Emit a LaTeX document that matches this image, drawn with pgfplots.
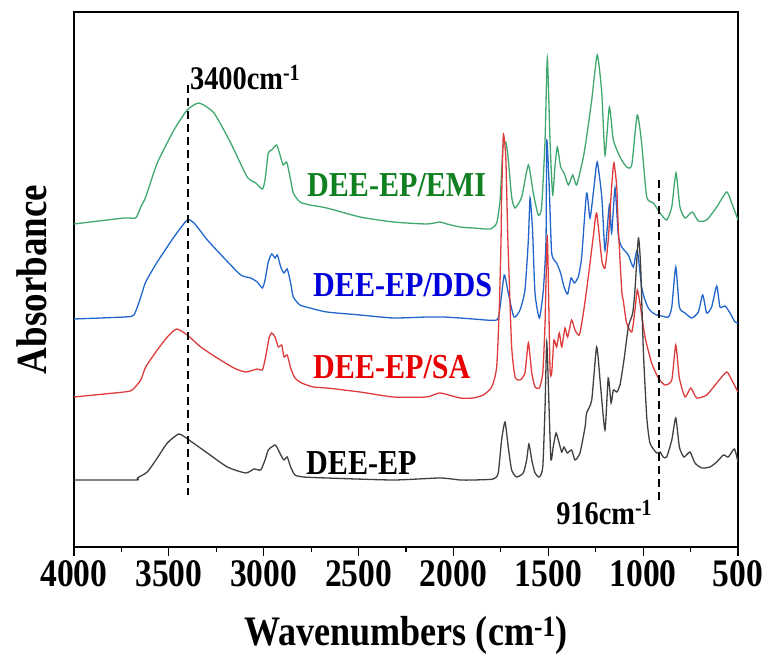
\documentclass[border=0pt]{standalone}
\usepackage{pgfplots}
\pgfplotsset{compat=1.18}
\usepackage{fontspec}
\setmainfont{Liberation Serif}
\newfontfamily\tallserif[FakeStretch=0.86]{Liberation Serif}

\definecolor{cEMI}{RGB}{64,168,110}
\definecolor{cDDS}{RGB}{34,102,204}
\definecolor{cSA}{RGB}{222,60,60}
\definecolor{cEP}{RGB}{64,64,64}
\definecolor{tEMI}{RGB}{16,128,32}
\definecolor{tDDS}{RGB}{0,0,220}
\definecolor{tSA}{RGB}{232,0,0}

\pgfplotsset{spec/.style={line width=1.3pt, smooth, tension=0.35}}

\begin{document}
\begin{tikzpicture}
\begin{axis}[
  scale only axis,
  width=664pt, height=535pt,
  x dir=reverse,
  xmin=500, xmax=4000, ymin=0, ymax=5.35,
  xtick={500,1000,...,4000},
  minor x tick num=1,
  ytick=\empty,
  xtick pos=bottom,
  tick align=outside,
  major tick length=9pt,
  minor tick length=5pt,
  every tick/.style={black, line width=1.2pt},
  axis line style={line width=1.2pt},
  /pgf/number format/assume math mode=true,
  /pgf/number format/1000 sep={},
  xticklabel style={font=\tallserif\fontsize{39}{39}\selectfont\bfseries, yshift=-1pt},
  xlabel={Wavenumbers (cm\textsuperscript{-1})},
  xlabel style={font=\tallserif\fontsize{42}{42}\selectfont\bfseries, at={(axis description cs:0.5,-0.165)}, anchor=center},
  ylabel={Absorbance},
  ylabel style={font=\tallserif\fontsize{43}{43}\selectfont\bfseries, at={(axis description cs:-0.063,0.5)}, anchor=center},
  clip=true,
]
\coordinate (sw) at (rel axis cs:0,0);
\coordinate (ne) at (rel axis cs:1,1);

% DEE-EP/EMI
\addplot[cEMI, spec] coordinates {
(4000,3.23) (3736,3.29) (3675,3.29) (3648,3.40) (3622,3.50) (3561,3.84)
(3473,4.17) (3403,4.37) (3341,4.44) (3262,4.34) (3174,4.04) (3087,3.70)
(3042,3.64) (3007,3.58) (2993,3.67) (2976,3.94) (2958,3.97) (2932,4.02)
(2914,3.92) (2897,3.82) (2879,3.85) (2861,3.70) (2844,3.54) (2809,3.45)
(2756,3.42) (2668,3.39) (2492,3.30) (2317,3.25) (2141,3.23) (2071,3.25)
(2035,3.23) (1965,3.20) (1897,3.19) (1807,3.18) (1772,3.24) (1754,3.47)
(1739,4.00) (1724,4.05) (1712,3.90) (1693,3.50) (1675,3.39) (1640,3.50)
(1605,3.82) (1579,3.54) (1553,3.32) (1535,3.40) (1517,4.07) (1505,4.89)
(1491,4.07) (1477,3.52) (1465,3.80) (1452,4.00) (1435,3.80) (1417,3.74)
(1394,3.62) (1371,3.72) (1350,3.62) (1315,3.90) (1298,4.10) (1271,4.47)
(1242,4.92) (1218,4.54) (1201,3.92) (1178,4.40) (1157,4.07) (1122,3.90)
(1087,3.80) (1060,3.82) (1031,4.32) (1008,4.04) (981,3.50) (946,3.44)
(911,3.34) (876,3.27) (849,3.40) (827,3.74) (806,3.40) (779,3.29)
(741,3.35) (709,3.26) (665,3.27) (612,3.40) (560,3.55) (533,3.44) (500,3.27)
};

% DEE-EP/DDS
\addplot[cDDS, spec] coordinates {
(4000,2.28) (3736,2.30) (3684,2.32) (3648,2.50) (3622,2.65) (3561,2.85)
(3473,3.10) (3403,3.27) (3367,3.24) (3297,3.07) (3209,2.89) (3121,2.72)
(3069,2.69) (3034,2.65) (3007,2.59) (2993,2.67) (2976,2.85) (2958,2.93)
(2940,2.89) (2928,2.92) (2910,2.80) (2893,2.74) (2876,2.78) (2858,2.64)
(2844,2.50) (2809,2.42) (2756,2.39) (2668,2.35) (2492,2.32) (2317,2.29)
(2141,2.30) (2053,2.30) (1965,2.29) (1895,2.28) (1772,2.27) (1754,2.40)
(1732,2.72) (1711,2.54) (1681,2.30) (1649,2.37) (1623,2.57) (1605,3.07)
(1596,3.49) (1583,3.17) (1570,2.54) (1547,2.29) (1526,2.57) (1512,3.07)
(1508,4.07) (1495,3.60) (1482,2.94) (1456,2.84) (1435,2.74) (1417,2.60)
(1398,2.53) (1380,2.69) (1363,2.64) (1342,2.70) (1324,2.90) (1298,3.54)
(1280,3.29) (1259,3.60) (1242,3.85) (1218,3.50) (1201,2.97) (1178,3.42)
(1166,3.14) (1148,3.59) (1131,3.12) (1113,3.00) (1078,2.92) (1052,2.80)
(1031,2.97) (1008,2.60) (990,2.47) (973,2.39) (955,2.35) (929,2.32)
(902,2.31) (867,2.30) (849,2.40) (828,2.80) (809,2.40) (779,2.34)
(744,2.29) (709,2.35) (686,2.52) (665,2.34) (639,2.40) (612,2.61)
(595,2.40) (568,2.41) (542,2.34) (516,2.25) (500,2.24)
};

% DEE-EP/SA
\addplot[cSA, spec] coordinates {
(4000,1.50) (3736,1.55) (3693,1.57) (3648,1.67) (3622,1.80) (3561,1.97)
(3508,2.10) (3459,2.18) (3403,2.12) (3332,2.00) (3245,1.89) (3157,1.79)
(3095,1.75) (3034,1.78) (3007,1.77) (2990,1.90) (2972,2.09) (2958,2.14)
(2940,2.10) (2923,2.00) (2905,2.02) (2893,1.90) (2876,1.92) (2858,1.79)
(2835,1.69) (2800,1.64) (2739,1.60) (2668,1.59) (2492,1.55) (2317,1.50)
(2141,1.50) (2071,1.54) (1965,1.49) (1897,1.49) (1843,1.52) (1798,1.60)
(1772,1.80) (1758,2.40) (1749,3.07) (1746,3.47) (1737,4.12) (1724,3.90)
(1714,3.14) (1707,2.74) (1693,2.00) (1675,1.70) (1649,1.67) (1623,1.74)
(1605,2.04) (1587,1.74) (1570,1.60) (1547,1.59) (1529,1.74) (1517,2.24)
(1505,3.11) (1491,1.80) (1482,1.74) (1470,2.07) (1456,2.00) (1442,2.14)
(1429,2.00) (1412,2.19) (1398,2.10) (1377,2.27) (1359,2.17) (1336,2.12)
(1315,2.34) (1289,2.70) (1263,3.10) (1245,3.34) (1218,2.87) (1201,2.79)
(1184,3.07) (1166,3.60) (1154,3.84) (1139,3.60) (1131,3.20) (1113,2.57)
(1105,2.47) (1087,2.24) (1060,2.15) (1043,2.37) (1031,2.57) (1017,2.44)
(990,2.10) (955,1.84) (920,1.69) (885,1.62) (849,1.67) (828,2.02)
(809,1.69) (779,1.50) (749,1.59) (718,1.49) (665,1.52) (612,1.64)
(560,1.75) (533,1.67) (500,1.55)
};

% DEE-EP
\addplot[cEP, spec] coordinates {
(4000,0.67) (3675,0.67) (3666,0.69) (3614,0.75) (3561,0.89) (3508,1.04)
(3447,1.13) (3394,1.07) (3297,0.94) (3192,0.80) (3095,0.74) (3051,0.78)
(3016,0.77) (2993,0.87) (2976,0.97) (2958,1.00) (2940,1.02) (2928,0.99)
(2910,0.92) (2893,0.87) (2876,0.90) (2858,0.80) (2835,0.72) (2791,0.70)
(2668,0.69) (2317,0.67) (2071,0.69) (1965,0.67) (1895,0.67) (1790,0.68)
(1764,0.74) (1746,1.07) (1728,1.25) (1711,1.00) (1693,0.77) (1667,0.70)
(1632,0.74) (1614,0.87) (1602,1.03) (1587,0.87) (1570,0.74) (1547,0.70)
(1529,0.80) (1517,1.40) (1508,2.05) (1496,1.40) (1486,0.87) (1474,1.00)
(1459,1.14) (1443,1.04) (1429,0.95) (1417,1.00) (1400,0.94) (1377,0.97)
(1359,0.87) (1333,0.94) (1306,1.20) (1298,1.34) (1271,1.47) (1245,2.00)
(1224,1.60) (1201,1.17) (1184,1.69) (1169,1.44) (1157,1.57) (1139,1.55)
(1122,1.62) (1101,1.87) (1078,2.20) (1055,2.34) (1043,2.57) (1025,3.09)
(1013,2.80) (999,1.97) (981,1.30) (964,1.04) (929,0.94) (911,0.95)
(894,0.90) (876,0.90) (849,1.07) (828,1.29) (809,1.00) (785,0.90)
(753,0.95) (727,0.84) (691,0.79) (648,0.80) (612,0.85) (577,0.92)
(551,0.90) (519,0.98) (500,0.85)
};

% marker lines at 3400 and 916 cm^-1
\addplot[black, line width=1.5pt, dash pattern=on 8pt off 5pt] coordinates {(3400,4.62) (3400,0.52)};
\addplot[black, line width=1.5pt, dash pattern=on 8pt off 5pt] coordinates {(916,3.67) (916,0.47)};

\node[anchor=west, inner sep=0pt, font=\tallserif\fontsize{33}{33}\selectfont\bfseries] at (axis cs:3389,4.69) {3400cm\textsuperscript{-1}};
\node[anchor=west, inner sep=0pt, font=\tallserif\fontsize{33}{33}\selectfont\bfseries] at (axis cs:1459,0.34) {916cm\textsuperscript{-1}};

\node[anchor=west, inner sep=0pt, text=tEMI, font=\tallserif\fontsize{35}{35}\selectfont\bfseries] at (axis cs:2772,3.62) {DEE-EP/EMI};
\node[anchor=west, inner sep=0pt, text=tDDS, font=\tallserif\fontsize{35}{35}\selectfont\bfseries] at (axis cs:2740,2.62) {DEE-EP/DDS};
\node[anchor=west, inner sep=0pt, text=tSA, font=\tallserif\fontsize{35}{35}\selectfont\bfseries] at (axis cs:2740,1.80) {DEE-EP/SA};
\node[anchor=west, inner sep=0pt, text=black, font=\tallserif\fontsize{35}{35}\selectfont\bfseries] at (axis cs:2777,0.84) {DEE-EP};
\end{axis}
\pgfresetboundingbox
\path[use as bounding box] ([xshift=-74pt,yshift=-121pt]sw) rectangle ([xshift=31pt,yshift=12pt]ne);
\end{tikzpicture}
\end{document}
